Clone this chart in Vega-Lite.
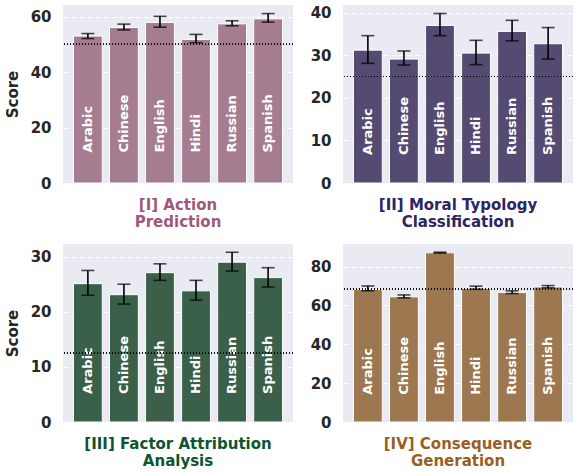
{
  "$schema": "https://vega.github.io/schema/vega-lite/v6.json",
  "padding": 5,
  "background": "white",
  "config": {
    "font": "DejaVu Sans",
    "view": {"fill": "#eaeaf2", "stroke": null},
    "axis": {
      "labelFontSize": 15, "labelFontWeight": "bold", "labelColor": "#262626",
      "titleFontSize": 15, "titleFontWeight": "bold", "titleColor": "#262626",
      "domain": false, "ticks": false, "labelPadding": 12, "titlePadding": 10,
      "gridColor": "white", "gridDash": [5, 3], "gridWidth": 1
    },
    "bar": {"stroke": "white", "strokeWidth": 1},
    "title": {"fontSize": 15, "fontWeight": "bold", "lineHeight": 17, "orient": "bottom", "offset": 7, "anchor": "middle"}
  },
  "datasets": {
    "scores": [
      {"task": "I", "lang": "Arabic", "score": 53.0, "lo": 52.1, "hi": 53.9},
      {"task": "I", "lang": "Chinese", "score": 56.1, "lo": 55.2, "hi": 57.3},
      {"task": "I", "lang": "English", "score": 57.9, "lo": 56.2, "hi": 60.1},
      {"task": "I", "lang": "Hindi", "score": 51.8, "lo": 50.6, "hi": 53.6},
      {"task": "I", "lang": "Russian", "score": 57.4, "lo": 56.7, "hi": 58.5},
      {"task": "I", "lang": "Spanish", "score": 59.2, "lo": 58.0, "hi": 61.1},
      {"task": "II", "lang": "Arabic", "score": 31.2, "lo": 28.1, "hi": 34.6},
      {"task": "II", "lang": "Chinese", "score": 29.1, "lo": 27.7, "hi": 31.0},
      {"task": "II", "lang": "English", "score": 37.0, "lo": 34.6, "hi": 39.8},
      {"task": "II", "lang": "Hindi", "score": 30.5, "lo": 27.8, "hi": 33.5},
      {"task": "II", "lang": "Russian", "score": 35.6, "lo": 33.4, "hi": 38.2},
      {"task": "II", "lang": "Spanish", "score": 32.7, "lo": 29.1, "hi": 36.5},
      {"task": "III", "lang": "Arabic", "score": 25.1, "lo": 23.0, "hi": 27.5},
      {"task": "III", "lang": "Chinese", "score": 23.1, "lo": 21.4, "hi": 25.0},
      {"task": "III", "lang": "English", "score": 27.1, "lo": 25.7, "hi": 28.7},
      {"task": "III", "lang": "Hindi", "score": 23.8, "lo": 22.1, "hi": 25.7},
      {"task": "III", "lang": "Russian", "score": 29.0, "lo": 27.4, "hi": 30.8},
      {"task": "III", "lang": "Spanish", "score": 26.2, "lo": 24.5, "hi": 28.0},
      {"task": "IV", "lang": "Arabic", "score": 68.2, "lo": 67.5, "hi": 70.0},
      {"task": "IV", "lang": "Chinese", "score": 64.4, "lo": 63.9, "hi": 65.4},
      {"task": "IV", "lang": "English", "score": 87.1, "lo": 86.9, "hi": 87.4},
      {"task": "IV", "lang": "Hindi", "score": 68.8, "lo": 68.3, "hi": 69.9},
      {"task": "IV", "lang": "Russian", "score": 66.6, "lo": 66.1, "hi": 67.5},
      {"task": "IV", "lang": "Spanish", "score": 69.5, "lo": 69.0, "hi": 70.2}
    ]
  },
  "vconcat": [
    {
      "hconcat": [
        {
          "width": 230, "height": 178,
          "data": {"name": "scores"},
          "transform": [{"filter": "datum.task === 'I'"}],
          "title": {"text": ["[I] Action", "Prediction"], "color": "#a0587a"},
          "layer": [
            {"mark": {"type": "bar", "color": "#a67d90"},
             "encoding": {"x": {"field": "lang", "type": "nominal", "scale": {"paddingInner": 0.2, "paddingOuter": 0.29}, "axis": null},
                          "y": {"field": "score", "type": "quantitative", "scale": {"domain": [0, 64.2], "nice": false}, "axis": {"values": [0, 20, 40, 60], "title": "Score"}}}},
            {"mark": {"type": "errorbar", "color": "black", "thickness": 1.6, "ticks": {"size": 13, "color": "black", "thickness": 1.6}},
             "encoding": {"x": {"field": "lang", "type": "nominal"},
                          "y": {"field": "lo", "type": "quantitative", "scale": {"domain": [0, 64.2], "nice": false}, "title": "Score"}, "y2": {"field": "hi"}}},
            {"mark": {"type": "text", "angle": 270, "align": "left", "baseline": "middle", "color": "white", "fontWeight": "bold", "fontSize": 13},
             "encoding": {"x": {"field": "lang", "type": "nominal"}, "y": {"datum": 11}, "text": {"field": "lang"}}},
            {"mark": {"type": "rule", "color": "black", "strokeDash": [1, 2], "strokeWidth": 1.1},
             "encoding": {"y": {"datum": 50}}}
          ]
        },
        {
          "width": 230, "height": 178,
          "data": {"name": "scores"},
          "transform": [{"filter": "datum.task === 'II'"}],
          "title": {"text": ["[II] Moral Typology", "Classification"], "color": "#2d2463"},
          "layer": [
            {"mark": {"type": "bar", "color": "#544a72"},
             "encoding": {"x": {"field": "lang", "type": "nominal", "scale": {"paddingInner": 0.2, "paddingOuter": 0.29}, "axis": null},
                          "y": {"field": "score", "type": "quantitative", "scale": {"domain": [0, 41.8], "nice": false}, "axis": {"values": [0, 10, 20, 30, 40], "title": null}}}},
            {"mark": {"type": "errorbar", "color": "black", "thickness": 1.6, "ticks": {"size": 13, "color": "black", "thickness": 1.6}},
             "encoding": {"x": {"field": "lang", "type": "nominal"},
                          "y": {"field": "lo", "type": "quantitative", "scale": {"domain": [0, 41.8], "nice": false}, "title": null}, "y2": {"field": "hi"}}},
            {"mark": {"type": "text", "angle": 270, "align": "left", "baseline": "middle", "color": "white", "fontWeight": "bold", "fontSize": 13},
             "encoding": {"x": {"field": "lang", "type": "nominal"}, "y": {"datum": 6.6}, "text": {"field": "lang"}}},
            {"mark": {"type": "rule", "color": "black", "strokeDash": [1, 2], "strokeWidth": 1.1},
             "encoding": {"y": {"datum": 25}}}
          ]
        }
      ],
      "spacing": 16
    },
    {
      "hconcat": [
        {
          "width": 230, "height": 178,
          "data": {"name": "scores"},
          "transform": [{"filter": "datum.task === 'III'"}],
          "title": {"text": ["[III] Factor Attribution", "Analysis"], "color": "#0d5430"},
          "layer": [
            {"mark": {"type": "bar", "color": "#3a604a"},
             "encoding": {"x": {"field": "lang", "type": "nominal", "scale": {"paddingInner": 0.2, "paddingOuter": 0.29}, "axis": null},
                          "y": {"field": "score", "type": "quantitative", "scale": {"domain": [0, 32.3], "nice": false}, "axis": {"values": [0, 10, 20, 30], "title": "Score"}}}},
            {"mark": {"type": "errorbar", "color": "black", "thickness": 1.6, "ticks": {"size": 13, "color": "black", "thickness": 1.6}},
             "encoding": {"x": {"field": "lang", "type": "nominal"},
                          "y": {"field": "lo", "type": "quantitative", "scale": {"domain": [0, 32.3], "nice": false}, "title": "Score"}, "y2": {"field": "hi"}}},
            {"mark": {"type": "text", "angle": 270, "align": "left", "baseline": "middle", "color": "white", "fontWeight": "bold", "fontSize": 13},
             "encoding": {"x": {"field": "lang", "type": "nominal"}, "y": {"datum": 5.1}, "text": {"field": "lang"}}},
            {"mark": {"type": "rule", "color": "black", "strokeDash": [1, 2], "strokeWidth": 1.1},
             "encoding": {"y": {"datum": 12.5}}}
          ]
        },
        {
          "width": 230, "height": 178,
          "data": {"name": "scores"},
          "transform": [{"filter": "datum.task === 'IV'"}],
          "title": {"text": ["[IV] Consequence", "Generation"], "color": "#9a5f1f"},
          "layer": [
            {"mark": {"type": "bar", "color": "#9c774f"},
             "encoding": {"x": {"field": "lang", "type": "nominal", "scale": {"paddingInner": 0.2, "paddingOuter": 0.29}, "axis": null},
                          "y": {"field": "score", "type": "quantitative", "scale": {"domain": [0, 91.6], "nice": false}, "axis": {"values": [0, 20, 40, 60, 80], "title": null}}}},
            {"mark": {"type": "errorbar", "color": "black", "thickness": 1.6, "ticks": {"size": 13, "color": "black", "thickness": 1.6}},
             "encoding": {"x": {"field": "lang", "type": "nominal"},
                          "y": {"field": "lo", "type": "quantitative", "scale": {"domain": [0, 91.6], "nice": false}, "title": null}, "y2": {"field": "hi"}}},
            {"mark": {"type": "text", "angle": 270, "align": "left", "baseline": "middle", "color": "white", "fontWeight": "bold", "fontSize": 13},
             "encoding": {"x": {"field": "lang", "type": "nominal"}, "y": {"datum": 14}, "text": {"field": "lang"}}},
            {"mark": {"type": "rule", "color": "black", "strokeDash": [1, 2], "strokeWidth": 1.1},
             "encoding": {"y": {"datum": 68.5}}}
          ]
        }
      ],
      "spacing": 16
    }
  ],
  "spacing": 14
}
